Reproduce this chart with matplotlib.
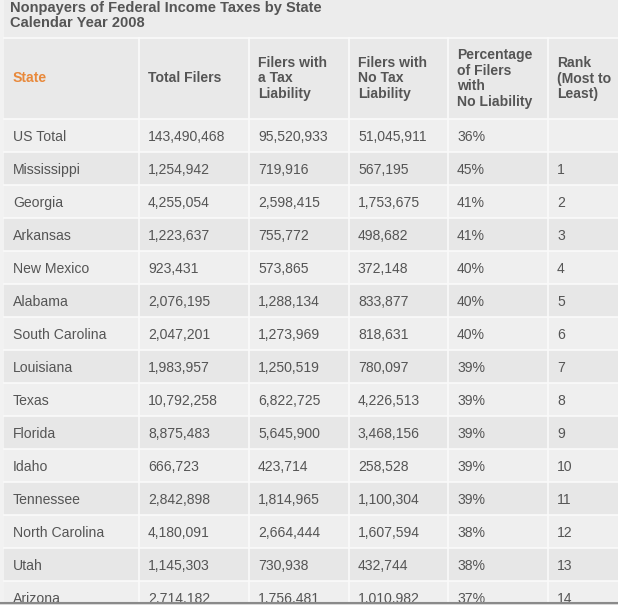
import matplotlib
matplotlib.use("Agg")
import matplotlib.pyplot as plt

title_lines = ["Nonpayers of Federal Income Taxes by State", "Calendar Year 2008"]
headers = ["State", "Total Filers", "Filers with\na Tax\nLiability", "Filers with\nNo Tax\nLiability",
           "Percentage\nof Filers\nwith\nNo Liability", "Rank\n(Most to\nLeast)"]
states = ["US Total", "Mississippi", "Georgia", "Arkansas", "New Mexico", "Alabama", "South Carolina",
          "Louisiana", "Texas", "Florida", "Idaho", "Tennessee", "North Carolina", "Utah", "Arizona"]
total_filers = [143490468, 1254942, 4255054, 1223637, 923431, 2076195, 2047201, 1983957,
                10792258, 8875483, 666723, 2842898, 4180091, 1145303, 2714182]
with_liability = [95520933, 719916, 2598415, 755772, 573865, 1288134, 1273969, 1250519,
                  6822725, 5645900, 423714, 1814965, 2664444, 730938, 1756481]
no_liability = [51045911, 567195, 1753675, 498682, 372148, 833877, 818631, 780097,
                4226513, 3468156, 258528, 1100304, 1607594, 432744, 1010982]
pct_no_liability = [36, 45, 41, 41, 40, 40, 40, 39, 39, 39, 39, 39, 38, 38, 37]
ranks = ["", "1", "2", "3", "4", "5", "6", "7", "8", "9", "10", "11", "12", "13", "14"]

W, H = 618, 605
fig = plt.figure(figsize=(W / 100, H / 100), dpi=100)
ax = fig.add_axes([0, 0, 1, 1])
ax.set_xlim(0, W)
ax.set_ylim(H, 0)
ax.axis("off")
fig.patch.set_facecolor("#ececec")

FONT = "Liberation Sans"
TXT = "#555555"
fs = 10.1

col_edges = [4, 139, 249, 349, 448, 548, W]
pad = 9
header_top, header_bot = 38, 119
row_h = 33

# left margin strip
ax.axvspan(0, 4, color="#f2f2f2", lw=0)

# title
for i, t in enumerate(title_lines):
    ax.text(10, 8 + 15 * i, t, fontsize=10.5, fontweight="bold", color=TXT,
            family=FONT, va="center", ha="left")

# header background
ax.fill_between([4, W], header_top, header_bot, color="#e9e9e9", lw=0)
hc = (header_top + header_bot) / 2
for j, h in enumerate(headers):
    ax.text(col_edges[j] + pad, hc, h, fontsize=fs, fontweight="bold",
            color="#e8893b" if j == 0 else TXT, family=FONT,
            va="center", ha="left", linespacing=1.17)

def fmt(v):
    return f"{v:,}"

n = len(states)
for i in range(n):
    top = header_bot + row_h * i
    bg = "#efefef" if i % 2 == 0 else "#e7e7e7"
    ax.fill_between([4, W], top, top + row_h, color=bg, lw=0)
    vals = [states[i], fmt(total_filers[i]), fmt(with_liability[i]), fmt(no_liability[i]),
            f"{pct_no_liability[i]}%", ranks[i]]
    for j, v in enumerate(vals):
        ax.text(col_edges[j] + pad, top + 22, v, fontsize=fs, color=TXT, family=FONT,
                va="baseline", ha="left")
    ax.plot([4, W], [top, top], color="#fafafa", lw=1.2)

ax.plot([4, W], [header_top, header_top], color="#fafafa", lw=1.2)
for x in col_edges[1:-1]:
    ax.plot([x, x], [header_top, H], color="#fafafa", lw=1.2)

# bottom edge
ax.fill_between([0, W], 603, H, color="#dcdcdc", lw=0, zorder=5)
ax.plot([0, W], [603, 603], color="#8a8a8a", lw=1.5, zorder=6)

fig.savefig("out.png", dpi=100, facecolor=fig.get_facecolor())
